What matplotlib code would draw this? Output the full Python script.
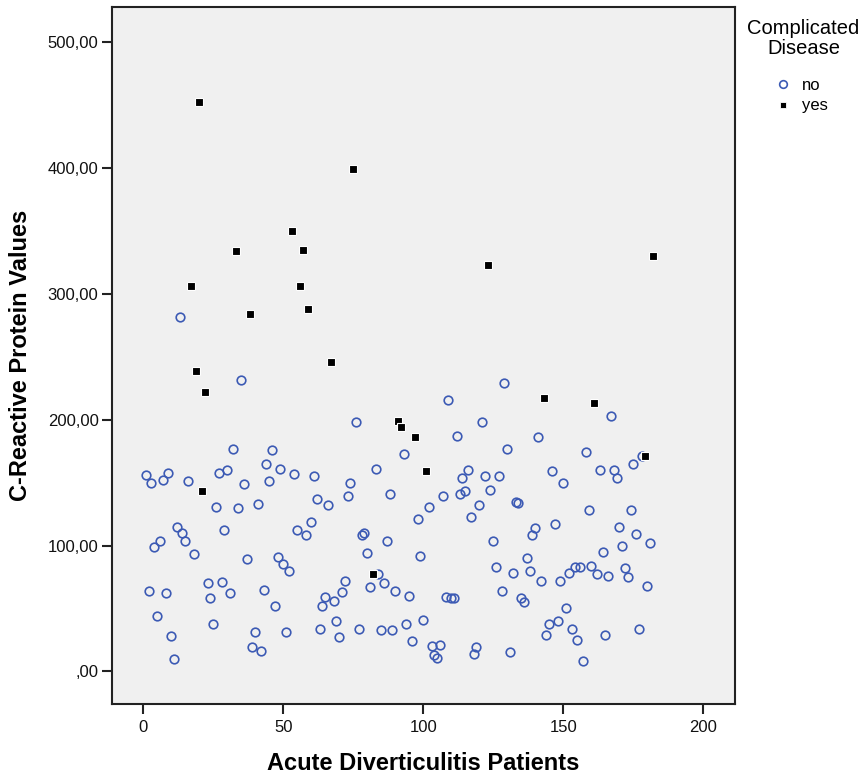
import matplotlib
matplotlib.use("Agg")
import matplotlib.pyplot as plt
from matplotlib.ticker import FuncFormatter
from matplotlib.lines import Line2D

plt.rcParams['font.family'] = ['Liberation Sans', 'DejaVu Sans']

# patients without complicated disease
no_patient = [1, 2, 3, 4, 5, 6, 7, 8, 9, 10, 11, 12, 13, 14, 15, 16, 18, 23, 24, 25,
              26, 27, 28, 29, 30, 31, 32, 34, 35, 36, 37, 39, 40, 41, 42, 43, 44, 45, 46, 47,
              48, 49, 50, 51, 52, 54, 55, 58, 60, 61, 62, 63, 64, 65, 66, 68, 69, 70, 71, 72,
              73, 74, 76, 77, 78, 79, 80, 81, 83, 84, 85, 86, 87, 88, 89, 90, 93, 94, 95, 96,
              98, 99, 100, 102, 103, 104, 105, 106, 107, 108, 109, 110, 111, 112, 113, 114, 115, 116, 117, 118,
              119, 120, 121, 122, 124, 125, 126, 127, 128, 129, 130, 131, 132, 133, 134, 135, 136, 137, 138, 139,
              140, 141, 142, 144, 145, 146, 147, 148, 149, 150, 151, 152, 153, 154, 155, 156, 157, 158, 159, 160,
              162, 163, 164, 165, 166, 167, 168, 169, 170, 171, 172, 173, 174, 175, 176, 177, 178, 180, 181]
no_crp = [156, 64, 150, 99, 44, 104, 152, 62, 158, 28, 10, 115, 282, 110, 104, 151, 93, 70, 58, 38,
          131, 158, 71, 112, 160, 62, 177, 130, 232, 149, 89, 19, 31, 133, 16, 65, 165, 151, 176, 52,
          91, 161, 85, 31, 80, 157, 112, 108, 119, 155, 137, 34, 52, 59, 132, 56, 40, 27, 63, 72,
          139, 150, 198, 34, 108, 110, 94, 67, 161, 77, 33, 70, 104, 141, 33, 64, 173, 38, 60, 24,
          121, 92, 41, 131, 20, 13, 11, 21, 139, 59, 216, 58, 58, 187, 141, 154, 143, 160, 123, 14,
          19, 132, 198, 155, 144, 104, 83, 155, 64, 229, 177, 15, 78, 135, 134, 58, 55, 90, 80, 108,
          114, 186, 72, 29, 38, 159, 117, 40, 72, 150, 50, 78, 34, 83, 25, 83, 8, 174, 128, 84,
          77, 160, 95, 29, 76, 203, 160, 154, 115, 100, 82, 75, 128, 165, 109, 34, 171, 68, 102]

# patients with complicated disease
yes_patient = [17, 19, 20, 21, 22, 33, 38, 53, 56, 57, 59, 67, 75, 82, 91, 92, 97, 101, 123, 143,
               161, 179, 182]
yes_crp = [306, 239, 453, 143, 222, 334, 284, 350, 306, 335, 288, 246, 399, 77, 199, 194, 186, 159, 323, 217,
           213, 171, 330]

x_ticks = [0, 50, 100, 150, 200]
y_ticks = [0, 100, 200, 300, 400, 500]

blue = "#3C5AB4"
dark = "#222222"

fig = plt.figure(figsize=(8.62, 7.76), dpi=100)
ax = fig.add_axes([0.1296, 0.0924, 0.7231, 0.8982])
ax.set_facecolor("#F0F0F0")

ax.plot(no_patient, no_crp, linestyle="none", marker="o", markersize=6.2,
        markerfacecolor="none", markeredgecolor=blue, markeredgewidth=1.2)
ax.plot(yes_patient, yes_crp, linestyle="none", marker="s", markersize=5.4,
        markerfacecolor="black", markeredgecolor="white", markeredgewidth=0.8)

ax.set_xlim(-11.2, 211.3)
ax.set_ylim(-26.2, 527.9)
ax.set_xticks(x_ticks)
ax.set_yticks(y_ticks)
ax.yaxis.set_major_formatter(FuncFormatter(lambda v, p: ",00" if v == 0 else f"{int(v)},00"))

for s in ax.spines.values():
    s.set_color(dark)
    s.set_linewidth(1.5)
ax.tick_params(direction="out", length=7.5, width=1.5, color=dark, labelsize=12,
               labelcolor="#111111")
ax.tick_params(axis="x", pad=4)
ax.tick_params(axis="y", pad=2)

ax.set_xlabel("Acute Diverticulitis Patients", fontsize=17, fontweight="bold")
ax.xaxis.label.set_va("baseline")
ax.xaxis.set_label_coords(0.5, -0.0945)
ax.set_ylabel("C-Reactive Protein Values", fontsize=17, fontweight="bold")
ax.yaxis.label.set_va("baseline")
ax.yaxis.set_label_coords(-0.1354, 0.5)

# legend title as its own text, entries below it
fig.text(803.5 / 862, 1 - 19 / 776, "Complicated\nDisease", ha="center", va="top",
         fontsize=14.5, linespacing=1.1, multialignment="center")
handles = [
    Line2D([], [], linestyle="none", marker="o", markersize=5.5, markerfacecolor="none",
           markeredgecolor=blue, markeredgewidth=1.2, label="no"),
    Line2D([], [], linestyle="none", marker="s", markersize=5, markerfacecolor="black",
           markeredgecolor="white", markeredgewidth=0.6, label="yes"),
]
fig.legend(handles=handles, loc="upper left", bbox_to_anchor=(0.9005, 0.9),
           frameon=False, fontsize=12, borderpad=0, borderaxespad=0,
           handlelength=0.8, handletextpad=0.75, labelspacing=0.35)

fig.savefig("out.png", dpi=100)
